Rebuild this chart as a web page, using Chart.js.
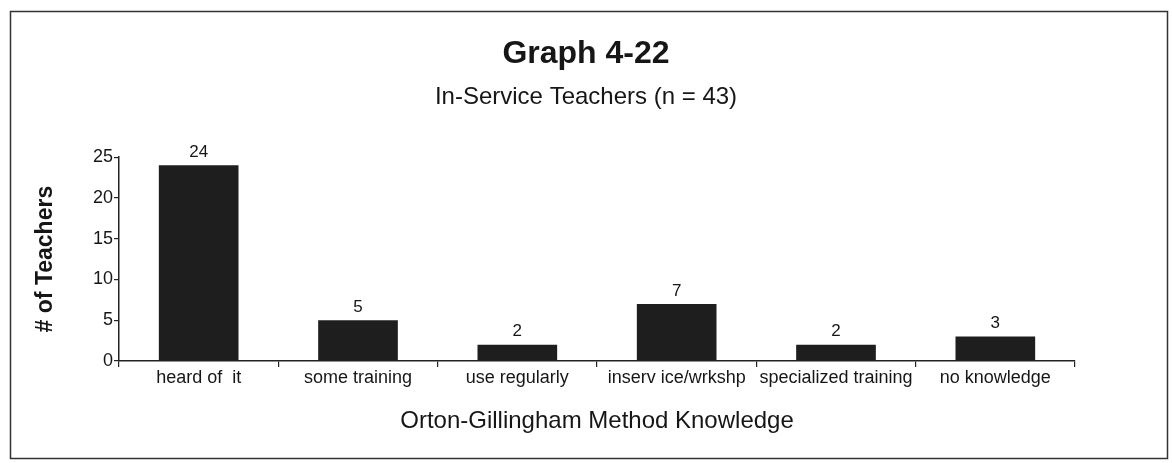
<!DOCTYPE html>
<html>
<head>
<meta charset="utf-8">
<title>Graph 4-22</title>
<script src="https://cdn.jsdelivr.net/npm/chart.js@4"></script>
<style>
html, body { margin: 0; padding: 0; background: #fff; }
canvas { display: block; }
</style>
</head>
<body>
<canvas id="canvas" width="1172" height="463"></canvas>
<script>
var CATEGORIES = ['heard of  it', 'some training', 'use regularly', 'inserv ice/wrkshp', 'specialized training', 'no knowledge'];
var TEACHERS = [24, 5, 2, 7, 2, 3];
var Y_TICKS = [0, 5, 10, 15, 20, 25];

var INK = '#161616';
Chart.defaults.font.family = "'Liberation Sans', Arial, sans-serif";
Chart.defaults.color = INK;

// white page + thin frame round the whole graph
var framePlugin = {
	id: 'frame',
	beforeDraw: function(chart) {
		var ctx = chart.ctx;
		ctx.save();
		ctx.fillStyle = '#fff';
		ctx.fillRect(0, 0, chart.width, chart.height);
		ctx.strokeStyle = '#333';
		ctx.lineWidth = 1.5;
		ctx.strokeRect(10.5, 11.5, 1157, 447);
		ctx.restore();
	}
};

// count printed above each bar
var valueLabels = {
	id: 'valueLabels',
	afterDatasetsDraw: function(chart) {
		var ctx = chart.ctx;
		var meta = chart.getDatasetMeta(0);
		ctx.save();
		ctx.font = "17px 'Liberation Sans', Arial, sans-serif";
		ctx.fillStyle = INK;
		ctx.textAlign = 'center';
		ctx.textBaseline = 'middle';
		meta.data.forEach(function(bar, i) {
			ctx.fillText(String(chart.data.datasets[0].data[i]), bar.x, bar.y - 13);
		});
		ctx.restore();
	}
};

window.onload = function() {
	var ctx = document.getElementById('canvas').getContext('2d');
	window.myBar = new Chart(ctx, {
		type: 'bar',
		data: {
			labels: CATEGORIES,
			datasets: [{
				label: '# of Teachers',
				data: TEACHERS,
				backgroundColor: '#1e1e1e',
				borderWidth: 0,
				categoryPercentage: 1,
				barPercentage: 0.5
			}]
		},
		options: {
			responsive: false,
			animation: false,
			layout: { padding: 0 },
			plugins: {
				legend: { display: false },
				tooltip: { enabled: false },
				title: {
					display: true,
					text: 'Graph 4-22',
					color: INK,
					font: { size: 32, weight: 'bold' },
					padding: { top: 35, bottom: 0 }
				},
				subtitle: {
					display: true,
					text: 'In-Service Teachers (n = 43)',
					color: INK,
					font: { size: 24 },
					padding: { top: 10, bottom: 45 }
				}
			},
			scales: {
				x: {
					grid: { offset: true, drawOnChartArea: false, tickLength: 6, color: '#222', lineWidth: 1.2 },
					border: { color: '#222', width: 1.5 },
					ticks: { font: { size: 18 }, color: INK, padding: 0, maxRotation: 0, autoSkip: false },
					title: {
						display: true,
						text: 'Orton-Gillingham Method Knowledge',
						color: INK,
						font: { size: 24 },
						padding: { top: 0, bottom: 27 }
					},
					afterFit: function(scale) { scale.height = 102; }
				},
				y: {
					min: 0,
					max: 25,
					afterBuildTicks: function(scale) {
						scale.ticks = Y_TICKS.map(function(v) { return { value: v }; });
					},
					grid: { drawOnChartArea: false, tickLength: 5, color: '#222', lineWidth: 1.2 },
					border: { color: '#222', width: 1.5 },
					ticks: { font: { size: 18 }, color: INK, padding: 1 },
					title: {
						display: true,
						text: '# of Teachers',
						color: INK,
						font: { size: 23, weight: 'bold' },
						padding: { top: 32, bottom: 0 }
					},
					afterFit: function(scale) { scale.width = 119; }
				},
				// empty right margin so the titles stay centred on the page
				yRight: {
					position: 'right',
					display: true,
					grid: { display: false, drawTicks: false },
					border: { display: false },
					ticks: { display: false },
					afterFit: function(scale) { scale.width = 97; }
				}
			}
		},
		plugins: [framePlugin, valueLabels]
	});
};
</script>
</body>
</html>
